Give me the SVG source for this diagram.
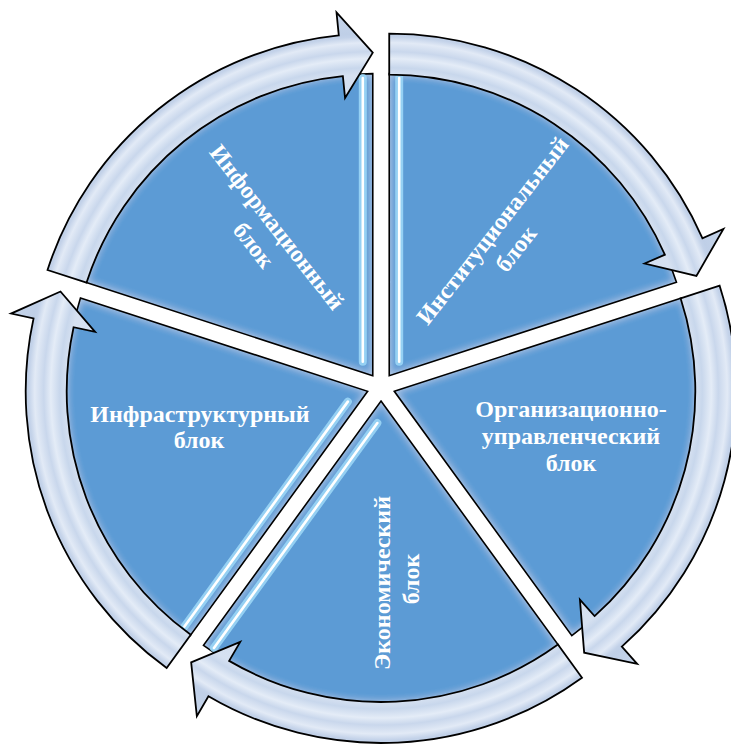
<svg xmlns="http://www.w3.org/2000/svg" width="731" height="745" viewBox="0 0 731 745">
<defs>
<style>
.wedge{fill:#5b9bd5;}
.edge{fill:none;stroke:#000;stroke-width:1.6;stroke-linejoin:miter;}
.band{stroke:#000;stroke-width:1.8;stroke-linejoin:miter;}
.gl1{stroke:#9fd9f8;stroke-width:8;stroke-linecap:round;fill:none;opacity:0.85;}
.gl2{stroke:#ffffff;stroke-width:2.6;stroke-linecap:round;fill:none;}
.lbl{font-family:"Liberation Serif","Times New Roman",serif;font-weight:bold;font-size:24px;fill:#ffffff;text-anchor:middle;}
</style>
<filter id="ig" x="-5%" y="-5%" width="110%" height="110%">
<feFlood flood-color="#ffffff" flood-opacity="0.5" result="f"/>
<feComposite in="f" in2="SourceAlpha" operator="out" result="outside"/>
<feGaussianBlur in="outside" stdDeviation="4" result="b"/>
<feComposite in="b" in2="SourceAlpha" operator="in" result="glow"/>
<feMerge><feMergeNode in="SourceGraphic"/><feMergeNode in="glow"/></feMerge>
</filter>
<radialGradient id="bandG" gradientUnits="userSpaceOnUse" r="365">
<stop offset="0" stop-color="#d3dff0"/>
<stop offset="0.764" stop-color="#d3dff0"/>
<stop offset="0.8247" stop-color="#d6e1f1"/>
<stop offset="0.8438" stop-color="#c8d7ec"/>
<stop offset="0.8685" stop-color="#e4ecf7"/>
<stop offset="0.8877" stop-color="#c9d7ec"/>
<stop offset="0.9123" stop-color="#e2eaf6"/>
<stop offset="0.9288" stop-color="#c3d2e9"/>
<stop offset="0.937" stop-color="#bfcfe7"/>
<stop offset="1" stop-color="#c6d5eb"/>
</radialGradient>
<radialGradient id="b1" href="#bandG" cx="372.771" cy="375.674"/>
<radialGradient id="b2" href="#bandG" cx="389.229" cy="375.674"/>
<radialGradient id="b3" href="#bandG" cx="394.315" cy="391.326"/>
<radialGradient id="b4" href="#bandG" cx="381" cy="401"/>
<radialGradient id="b5" href="#bandG" cx="367.685" cy="391.326"/>
</defs>

<g id="node-informational">
<path class="wedge" filter="url(#ig)" d="M372.771 375.674 L85.551 282.350 A302 302 0 0 1 372.771 73.674 Z"/>
<path class="edge" d="M372.771 375.674 L85.551 282.350 A302 302 0 0 1 372.771 73.674 Z"/>
<line class="gl1" x1="362.8" y1="361.7" x2="362.8" y2="78"/>
<line class="gl2" x1="362.8" y1="361.7" x2="362.8" y2="78"/>
<g transform="translate(265,236.5) rotate(52)">
<text class="lbl" x="0" y="-7.25">Информационный</text>
<text class="lbl" x="0" y="22.25">блок</text>
</g>
</g>

<g id="node-institutional">
<path class="wedge" filter="url(#ig)" d="M389.229 375.674 L389.229 73.674 A302 302 0 0 1 676.449 282.350 Z"/>
<path class="edge" d="M389.229 375.674 L389.229 73.674 A302 302 0 0 1 676.449 282.350 Z"/>
<line class="gl1" x1="399.2" y1="361.7" x2="399.2" y2="78"/>
<line class="gl2" x1="399.2" y1="361.7" x2="399.2" y2="78"/>
<g transform="translate(504.5,240) rotate(-52)">
<text class="lbl" x="0" y="-7.25">Институциональный</text>
<text class="lbl" x="0" y="22.25">блок</text>
</g>
</g>

<g id="node-organizational">
<path class="wedge" filter="url(#ig)" d="M394.315 391.326 L681.535 298.002 A302 302 0 0 1 571.828 635.650 Z"/>
<path class="edge" d="M394.315 391.326 L681.535 298.002 A302 302 0 0 1 571.828 635.650 Z"/>
<text class="lbl" x="571" y="417">Организационно-</text>
<text class="lbl" x="571" y="444">управленческий</text>
<text class="lbl" x="571" y="471">блок</text>
</g>

<g id="node-economic">
<path class="wedge" filter="url(#ig)" d="M381 401 L558.513 645.324 A302 302 0 0 1 203.487 645.324 Z"/>
<path class="edge" d="M381 401 L558.513 645.324 A302 302 0 0 1 203.487 645.324 Z"/>
<line class="gl1" x1="377.334" y1="423.058" x2="213.929" y2="647.966"/>
<line class="gl2" x1="377.334" y1="423.058" x2="213.929" y2="647.966"/>
<g transform="translate(396.5,582) rotate(-90)">
<text class="lbl" x="-1" y="-7">Экономический</text>
<text class="lbl" x="3" y="22">блок</text>
</g>
</g>

<g id="node-infrastructure">
<path class="wedge" filter="url(#ig)" d="M367.685 391.326 L190.172 635.650 A302 302 0 0 1 80.465 298.002 Z"/>
<path class="edge" d="M367.685 391.326 L190.172 635.650 A302 302 0 0 1 80.465 298.002 Z"/>
<line class="gl1" x1="347.839" y1="401.628" x2="184.434" y2="626.536"/>
<line class="gl2" x1="347.839" y1="401.628" x2="184.434" y2="626.536"/>
<text class="lbl" x="200" y="422">Инфраструктурный</text>
<text class="lbl" x="199" y="448">блок</text>
</g>

<g id="connectors">
<path class="band" fill="url(#b1)" d="M86.502 282.659 L47.508 269.989 A342 342 0 0 1 338.804 35.363 L336.519 12.477 L372.771 52.674 L345.061 98.052 L342.876 76.161 A301 301 0 0 0 86.502 282.659 Z"/>
<path class="band" fill="url(#b2)" d="M389.229 74.674 L389.229 33.674 A342 342 0 0 1 702.385 238.207 L723.445 228.962 L696.421 275.861 L644.698 263.530 L664.843 254.687 A301 301 0 0 0 389.229 74.674 Z"/>
<path class="band" fill="url(#b3)" d="M680.584 298.311 L719.578 285.641 A342 342 0 0 1 621.824 646.677 L637.124 663.850 L584.171 652.639 L579.914 599.639 L594.549 616.065 A301 301 0 0 0 680.584 298.311 Z"/>
<path class="band" fill="url(#b4)" d="M557.925 644.515 L582.024 677.685 A342 342 0 0 1 208.451 696.283 L196.847 716.141 L191.144 662.313 L240.236 641.889 L229.136 660.883 A301 301 0 0 0 557.925 644.515 Z"/>
<path class="band" fill="url(#b5)" d="M190.760 634.841 L166.661 668.011 A342 342 0 0 1 33.534 318.470 L11.062 313.570 L60.493 291.513 L95.088 331.891 L73.593 327.204 A301 301 0 0 0 190.760 634.841 Z"/>
</g>
</svg>
